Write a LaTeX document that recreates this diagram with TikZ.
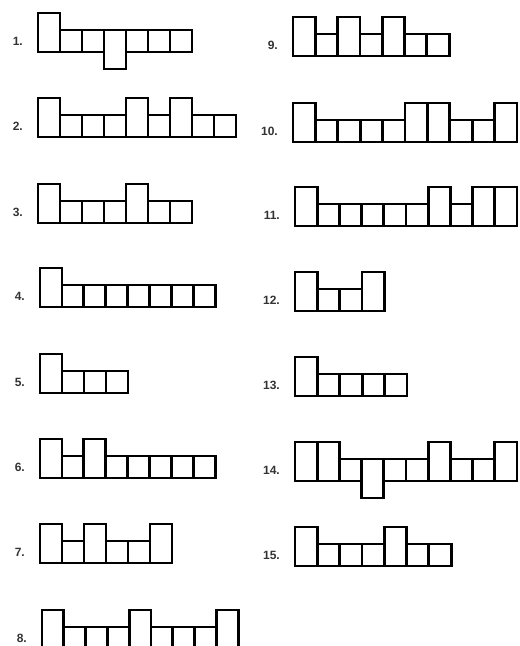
\documentclass[tikz,border=0pt]{standalone}
\usepackage{fontspec}
\setmainfont{Liberation Sans}
\usetikzlibrary{positioning}
\tikzset{
  cell/.style={draw=black,fill=white,line width=2.8pt,inner sep=0pt,outer sep=0pt,
               anchor=south west},
  cellT/.style={cell,minimum height=39pt},
  cellS/.style={cell,minimum height=22pt},
  cellD/.style={cell,minimum height=39pt,yshift=-17pt},
  num/.style={font=\fontsize{12}{14}\selectfont\bfseries,text=black!80,inner sep=0pt,anchor=east},
}
\begin{document}
\begin{tikzpicture}[x=1pt,y=-1pt]
  \useasboundingbox (0,0) rectangle (520,646);
  % label / left x / bottom y / cell width / cells
  \foreach \n/\xo/\yb/\w/\cells in {
      1/38/52/22/{T,S,S,D,S,S,S},
      2/38/137/22/{T,S,S,S,T,S,T,S,S},
      3/38/223/22/{T,S,S,S,T,S,S},
      4/40/307/21.9/{T,S,S,S,S,S,S,S},
      5/40/393/22/{T,S,S,S},
      6/40/478/21.9/{T,S,T,S,S,S,S,S},
      7/40/563/22/{T,S,T,S,S,T},
      8/42/649/21.8/{T,S,S,S,T,S,S,S,T},
      9/293/56/22.3/{T,S,T,S,T,S,S},
      10/293/142/22.4/{T,S,S,S,S,T,T,S,S,T},
      11/295/226/22.2/{T,S,S,S,S,S,T,S,T,T},
      12/295/311/22.3/{T,S,S,T},
      13/295/396/22.4/{T,S,S,S,S},
      14/295/481/22.2/{T,T,S,D,S,S,T,S,S,T},
      15/295/566/22.3/{T,S,S,S,T,S,S}} {
    \node[num] (l\n) at (\xo-15,\yb-11) {\n.};
    \foreach \c [count=\i from 0] in \cells
      \node[cell\c,minimum width=\w pt] (r\n-\i) at (\xo+\i*\w,\yb) {};
  }
\end{tikzpicture}
\end{document}
